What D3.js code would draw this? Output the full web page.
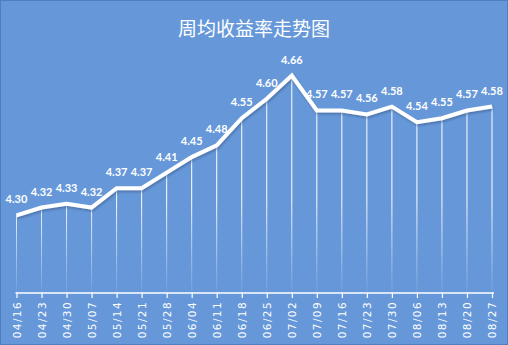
<!DOCTYPE html>
<html>
<head>
<meta charset="utf-8">
<script src="https://cdn.jsdelivr.net/npm/d3@7/dist/d3.min.js"></script>
<style>
  html, body { margin: 0; padding: 0; background: #fff; }
  svg { display: block; }
</style>
</head>
<body>
<div id="chart"></div>
<script>
// weekly dates and average yield
const weeks = ['04/16', '04/23', '04/30', '05/07', '05/14', '05/21', '05/28', '06/04',
  '06/11', '06/18', '06/25', '07/02', '07/09', '07/16', '07/23', '07/30',
  '08/06', '08/13', '08/20', '08/27'];
const yields = [4.30, 4.32, 4.33, 4.32, 4.37, 4.37, 4.41, 4.45, 4.48, 4.55,
  4.60, 4.66, 4.57, 4.57, 4.56, 4.58, 4.54, 4.55, 4.57, 4.58];
const yDomain = [4.1, 4.7];
const title = '周均收益率走势图';

const width = 508, height = 345;
const plot = {left: 16.5, right: 492, top: 60, bottom: 293};
const bg = '#6698d9';

const data = weeks.map((w, i) => ({w: w, v: yields[i]}));

const svg = d3.select('#chart').append('svg')
  .attr('width', width)
  .attr('height', height);

const defs = svg.append('defs');
const grad = defs.append('linearGradient')
  .attr('id', 'drop-fade')
  .attr('gradientUnits', 'userSpaceOnUse')
  .attr('x1', 0).attr('x2', 0)
  .attr('y1', 200).attr('y2', plot.bottom);
grad.append('stop').attr('offset', '0%').attr('stop-color', '#fff').attr('stop-opacity', 1);
grad.append('stop').attr('offset', '100%').attr('stop-color', '#fff').attr('stop-opacity', 0.05);

const shadow = defs.append('filter').attr('id', 'shadow')
  .attr('x', '-10%').attr('y', '-10%').attr('width', '120%').attr('height', '140%');
shadow.append('feDropShadow')
  .attr('dx', 1).attr('dy', 2).attr('stdDeviation', 1.2)
  .attr('flood-color', '#33507a').attr('flood-opacity', 0.45);

// background and frame
svg.append('rect')
  .attr('x', 0.5).attr('y', 0.5)
  .attr('width', width - 1).attr('height', height - 1)
  .attr('fill', bg)
  .attr('stroke', '#4f7fc0');

svg.append('text')
  .attr('x', width / 2)
  .attr('y', 36)
  .attr('text-anchor', 'middle')
  .attr('fill', '#fff')
  .attr('font-family', '"Noto Sans CJK SC", sans-serif')
  .attr('font-size', 19)
  .text(title);

const x = d3.scalePoint()
  .domain(weeks)
  .range([plot.left, plot.right]);

const y = d3.scaleLinear()
  .domain(yDomain)
  .range([plot.bottom, plot.top]);

// drop lines
svg.append('g').selectAll('line')
  .data(data)
  .enter()
  .append('line')
  .attr('x1', d => x(d.w))
  .attr('x2', d => x(d.w))
  .attr('y1', d => y(d.v))
  .attr('y2', plot.bottom)
  .attr('stroke', 'url(#drop-fade)')
  .attr('stroke-width', 1);

// x axis
const xAxis = svg.append('g')
  .attr('transform', 'translate(0,' + plot.bottom + ')')
  .call(d3.axisBottom(x).tickSize(5).tickSizeOuter(0));

xAxis.select('.domain')
  .attr('stroke', '#fff')
  .attr('stroke-width', 1.5)
  .attr('d', 'M' + (plot.left - 1) + ',0H' + (plot.right + 2));
xAxis.selectAll('.tick line').attr('stroke', '#fff').attr('stroke-width', 1.2);
xAxis.selectAll('.tick text')
  .attr('fill', '#fff')
  .attr('font-family', '"DejaVu Sans", sans-serif')
  .attr('font-size', 10.5)
  .attr('letter-spacing', 1.4)
  .attr('text-anchor', 'end')
  .attr('transform', 'rotate(-90)')
  .attr('x', -8)
  .attr('y', 0)
  .attr('dy', '0.35em');

// the line
const line = d3.line()
  .x(d => x(d.w))
  .y(d => y(d.v));

svg.append('path')
  .datum(data)
  .attr('d', line)
  .attr('fill', 'none')
  .attr('stroke', '#fff')
  .attr('stroke-width', 4)
  .attr('stroke-linejoin', 'miter')
  .attr('filter', 'url(#shadow)');

// value labels
svg.append('g').selectAll('text')
  .data(data)
  .enter()
  .append('text')
  .attr('x', d => x(d.w))
  .attr('y', d => y(d.v) - 12)
  .attr('text-anchor', 'middle')
  .attr('fill', '#fff')
  .attr('font-family', 'Lato, sans-serif')
  .attr('font-weight', 700)
  .attr('font-size', 11)
  .text(d => d.v.toFixed(2));
</script>
</body>
</html>
